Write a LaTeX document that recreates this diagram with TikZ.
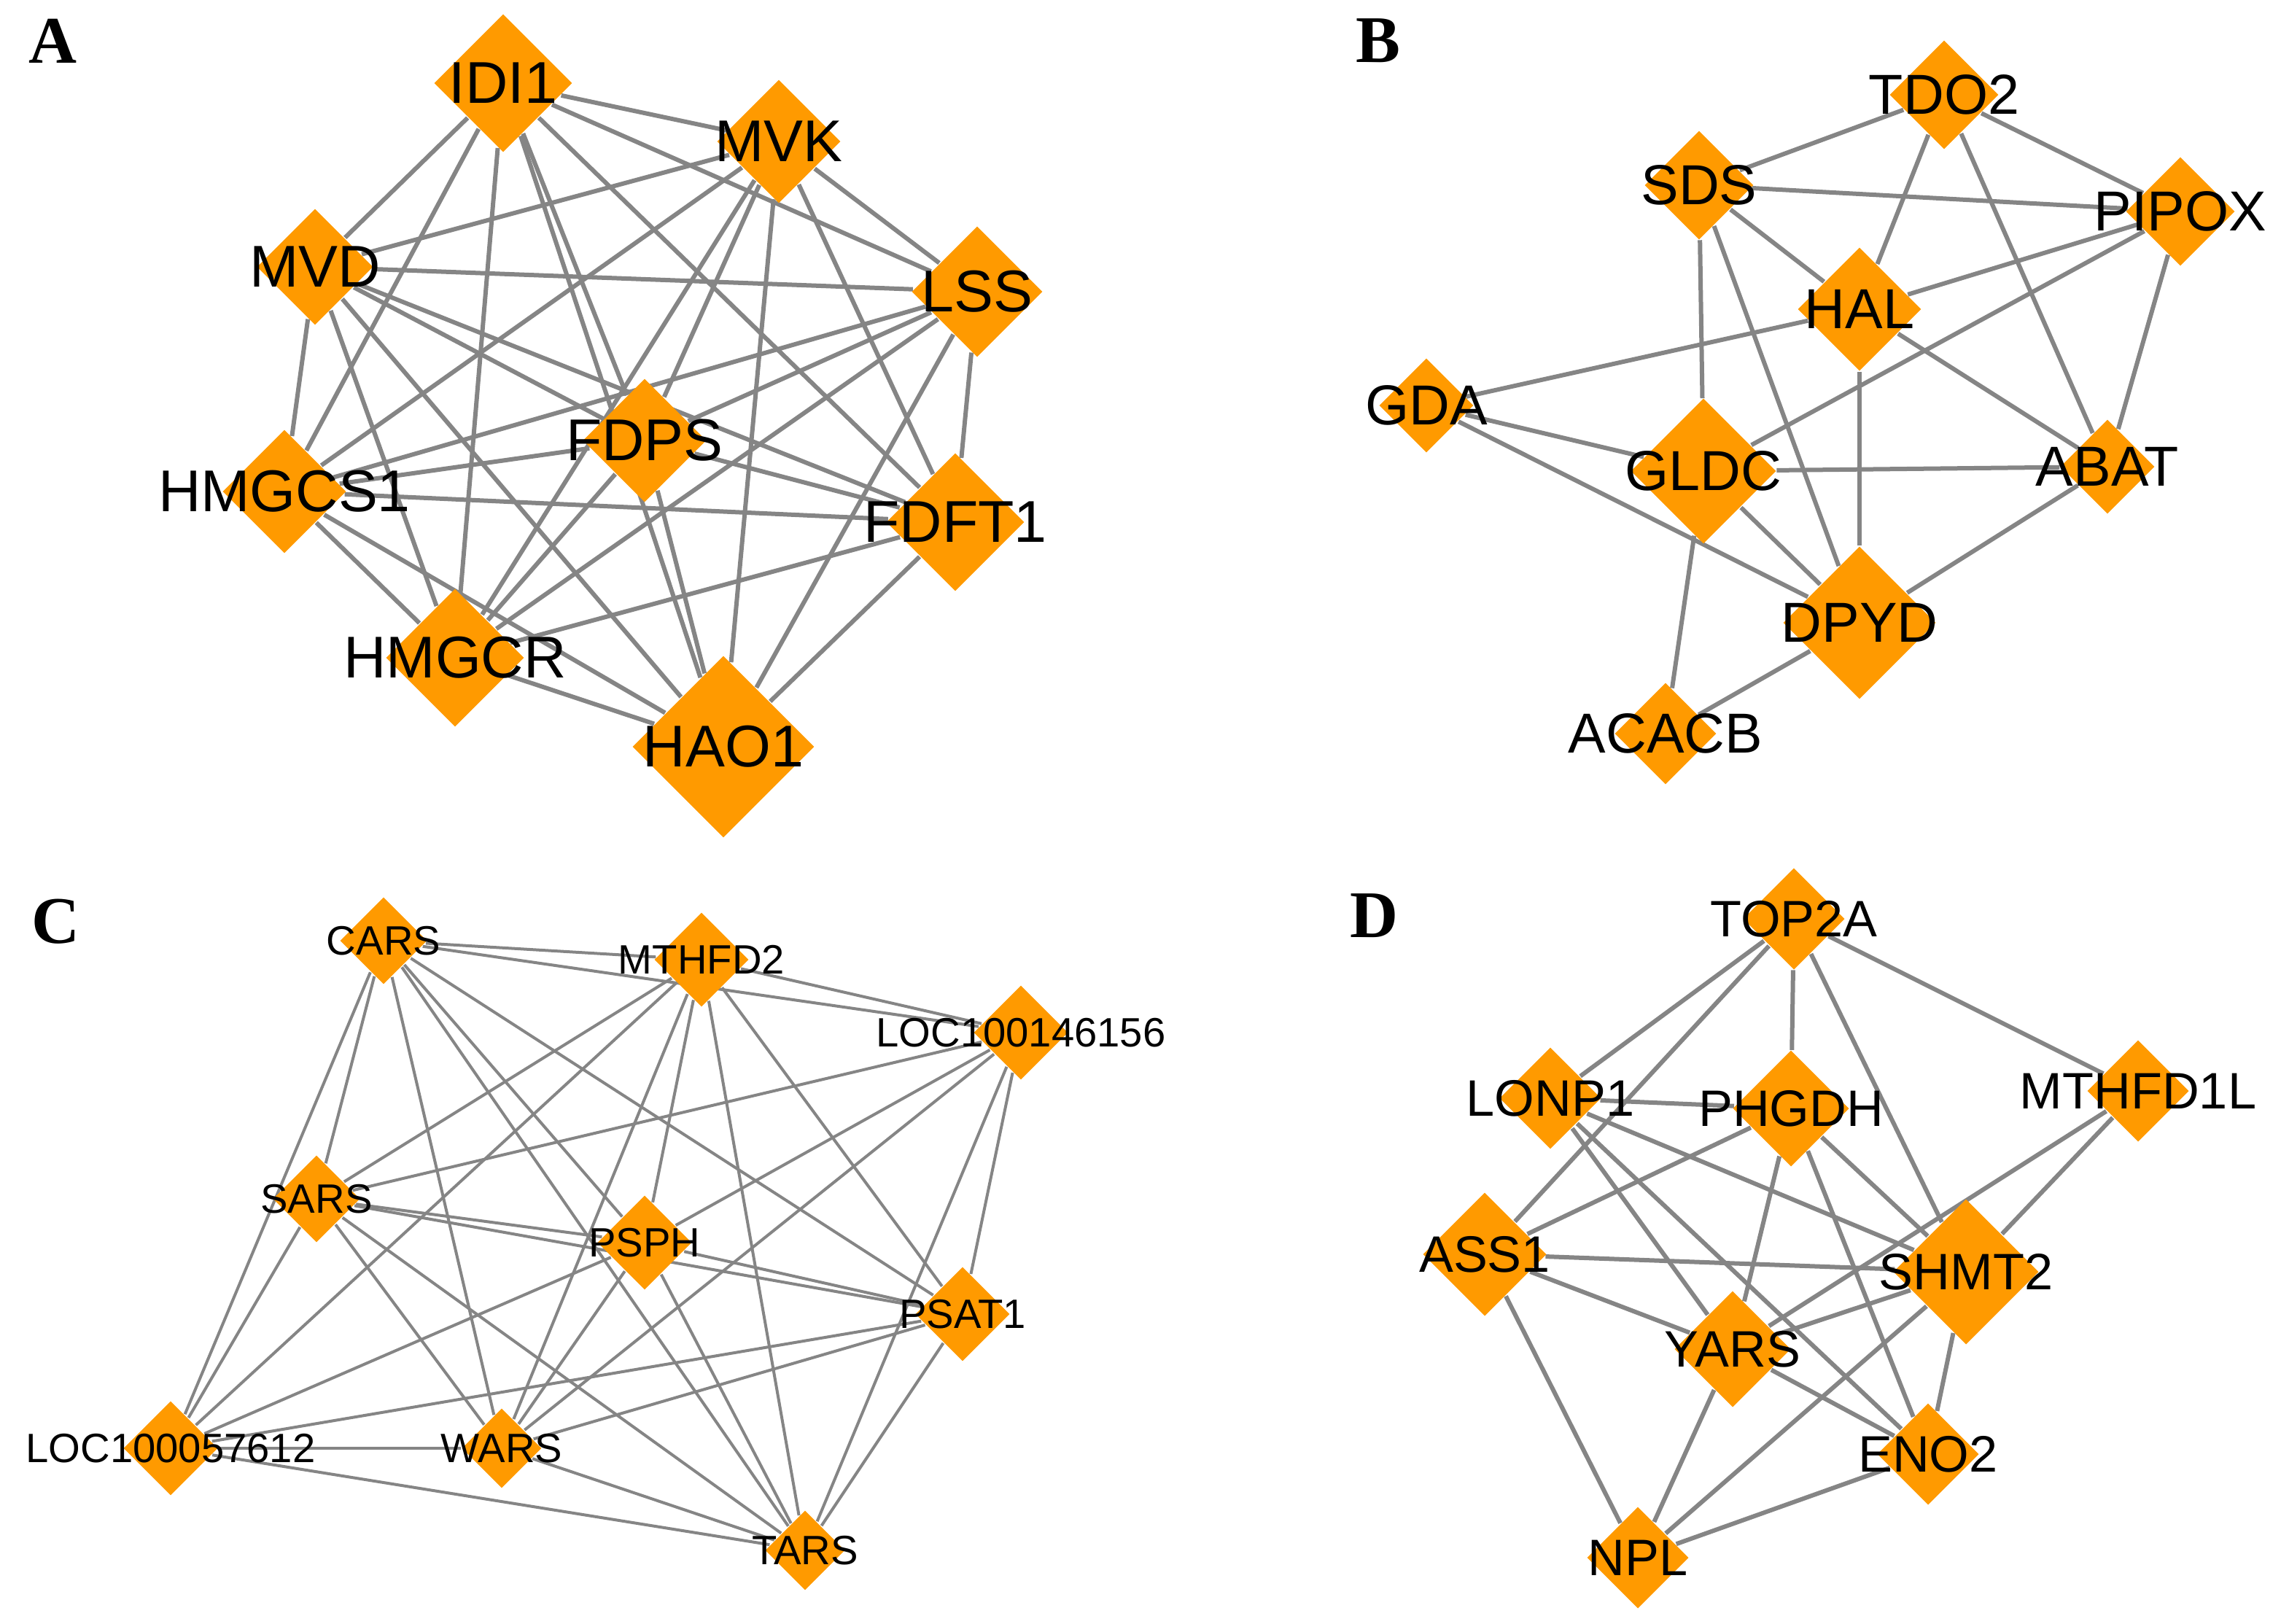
\documentclass[tikz,border=0pt]{standalone}
\usepackage{fontspec}
\setmainfont{Liberation Sans}
\newfontfamily\panelfont{Liberation Serif}
\usetikzlibrary{shapes.geometric}
\definecolor{gorange}{HTML}{FF9A00}
\definecolor{egray}{HTML}{858585}
\pgfdeclarelayer{edgelayer}
\pgfdeclarelayer{nodelayer}
\pgfsetlayers{edgelayer,main,nodelayer}
\tikzstyle{dia}=[diamond,fill=gorange,draw=none,inner sep=0pt]
\tikzstyle{lab}=[inner sep=0pt,text=black]
\tikzstyle{edge}=[-,draw=egray,line width=0.3mm]
\tikzstyle{thin edge}=[-,draw=egray,line width=0.2mm]
\tikzstyle{panel}=[inner sep=0pt,font=\panelfont\bfseries\fontsize{13}{13}\selectfont]
\newcommand{\gene}[5]{%
  \node [style=dia,minimum width=#3,minimum height=#3] (#1) at (#2) {};
  \begin{pgfonlayer}{nodelayer}\node [style=lab] at (#1) {#4#5};\end{pgfonlayer}}
\begin{document}
\begin{tikzpicture}[x=0.1mm,y=-0.1mm]
	\useasboundingbox (0,0) rectangle (1564,1113);
	% panel letters
	\node [style=panel] (la) at (36,28) {A};
	\node [style=panel] (lb) at (945,28) {B};
	\node [style=panel] (lc) at (38,632) {C};
	\node [style=panel] (ld) at (942,628) {D};
	% A
	\def\fa{\fontsize{11.5}{12}\selectfont}
	\gene{idi}{345,57}{9.5mm}{\fa}{IDI1}
	\gene{mvk}{534,97}{8.5mm}{\fa}{MVK}
	\gene{mvd}{216,183}{8mm}{\fa}{MVD}
	\gene{lss}{670,200}{9mm}{\fa}{LSS}
	\gene{fdps}{442,302}{8.5mm}{\fa}{FDPS}
	\gene{hmgcs}{195,337}{8.5mm}{\fa}{HMGCS1}
	\gene{fdft}{655,358}{9.5mm}{\fa}{FDFT1}
	\gene{hmgcr}{312,451}{9.5mm}{\fa}{HMGCR}
	\gene{hao}{496,512}{12.5mm}{\fa}{HAO1}
	% B
	\def\fb{\fontsize{11}{12}\selectfont}
	\gene{tdo}{1333,65}{7.5mm}{\fb}{TDO2}
	\gene{sds}{1165,127}{7.5mm}{\fb}{SDS}
	\gene{pipox}{1495,145}{7.5mm}{\fb}{PIPOX}
	\gene{hal}{1275,212}{8.5mm}{\fb}{HAL}
	\gene{gda}{978,278}{6.5mm}{\fb}{GDA}
	\gene{gldc}{1168,323}{10mm}{\fb}{GLDC}
	\gene{abat}{1445,320}{6.5mm}{\fb}{ABAT}
	\gene{dpyd}{1275,427}{10.5mm}{\fb}{DPYD}
	\gene{acacb}{1142,503}{7mm}{\fb}{ACACB}
	% C
	\def\fc{\fontsize{8}{9}\selectfont}
	\gene{cars}{263,645}{6mm}{\fc}{CARS}
	\gene{mthfd}{481,658}{6.5mm}{\fc}{MTHFD2}
	\gene{loca}{700,708}{6.5mm}{\fc}{LOC100146156}
	\gene{sars}{217,822}{6mm}{\fc}{SARS}
	\gene{psph}{442,852}{6.5mm}{\fc}{PSPH}
	\gene{psat}{660,901}{6.5mm}{\fc}{PSAT1}
	\gene{locb}{117,993}{6.5mm}{\fc}{LOC100057612}
	\gene{wars}{344,993}{5.5mm}{\fc}{WARS}
	\gene{tars}{552,1063}{5.5mm}{\fc}{TARS}
	% D
	\def\fd{\fontsize{10}{11}\selectfont}
	\gene{top}{1230,630}{7mm}{\fd}{TOP2A}
	\gene{lonp}{1063,753}{7mm}{\fd}{LONP1}
	\gene{phgdh}{1228,760}{8mm}{\fd}{PHGDH}
	\gene{mthfdl}{1466,748}{7mm}{\fd}{MTHFD1L}
	\gene{ass}{1018,860}{8.5mm}{\fd}{ASS1}
	\gene{shmt}{1348,872}{10mm}{\fd}{SHMT2}
	\gene{yars}{1188,925}{8mm}{\fd}{YARS}
	\gene{eno}{1322,997}{7mm}{\fd}{ENO2}
	\gene{npl}{1123,1068}{7mm}{\fd}{NPL}
	\begin{pgfonlayer}{edgelayer}
		\foreach \s/\t in {idi/mvk,idi/mvd,idi/lss,idi/fdps,idi/hmgcs,idi/fdft,idi/hmgcr,idi/hao,
			mvk/mvd,mvk/lss,mvk/fdps,mvk/hmgcs,mvk/fdft,mvk/hmgcr,mvk/hao,
			mvd/lss,mvd/fdps,mvd/hmgcs,mvd/fdft,mvd/hmgcr,mvd/hao,
			lss/fdps,lss/hmgcs,lss/fdft,lss/hmgcr,lss/hao,
			fdps/hmgcs,fdps/fdft,fdps/hmgcr,fdps/hao,
			hmgcs/fdft,hmgcs/hmgcr,hmgcs/hao,fdft/hmgcr,fdft/hao,hmgcr/hao}
			\draw [style=edge] (\s) to (\t);
		\foreach \s/\t in {tdo/sds,tdo/pipox,tdo/hal,tdo/abat,sds/pipox,sds/hal,sds/gldc,sds/dpyd,
			pipox/hal,pipox/gldc,pipox/abat,hal/gda,hal/dpyd,hal/abat,gda/gldc,gda/dpyd,
			gldc/abat,gldc/dpyd,gldc/acacb,abat/dpyd,dpyd/acacb}
			\draw [style=edge] (\s) to (\t);
		\foreach \s/\t in {cars/mthfd,cars/loca,cars/sars,cars/locb,cars/wars,cars/psph,cars/psat,cars/tars,
			mthfd/loca,mthfd/sars,mthfd/locb,mthfd/psph,mthfd/wars,mthfd/psat,mthfd/tars,
			loca/sars,loca/psph,loca/wars,loca/psat,loca/tars,
			sars/psph,sars/psat,sars/locb,sars/wars,sars/tars,
			psph/psat,psph/locb,psph/wars,psph/tars,
			psat/locb,psat/wars,psat/tars,locb/wars,locb/tars,wars/tars}
			\draw [style=thin edge] (\s) to (\t);
		\foreach \s/\t in {top/lonp,top/ass,top/phgdh,top/shmt,top/mthfdl,lonp/phgdh,lonp/yars,
			lonp/eno,lonp/shmt,phgdh/ass,phgdh/yars,phgdh/eno,phgdh/shmt,mthfdl/yars,
			mthfdl/shmt,ass/shmt,ass/yars,ass/npl,shmt/yars,shmt/eno,shmt/npl,yars/eno,
			yars/npl,eno/npl}
			\draw [style=edge] (\s) to (\t);
	\end{pgfonlayer}
\end{tikzpicture}
\end{document}
